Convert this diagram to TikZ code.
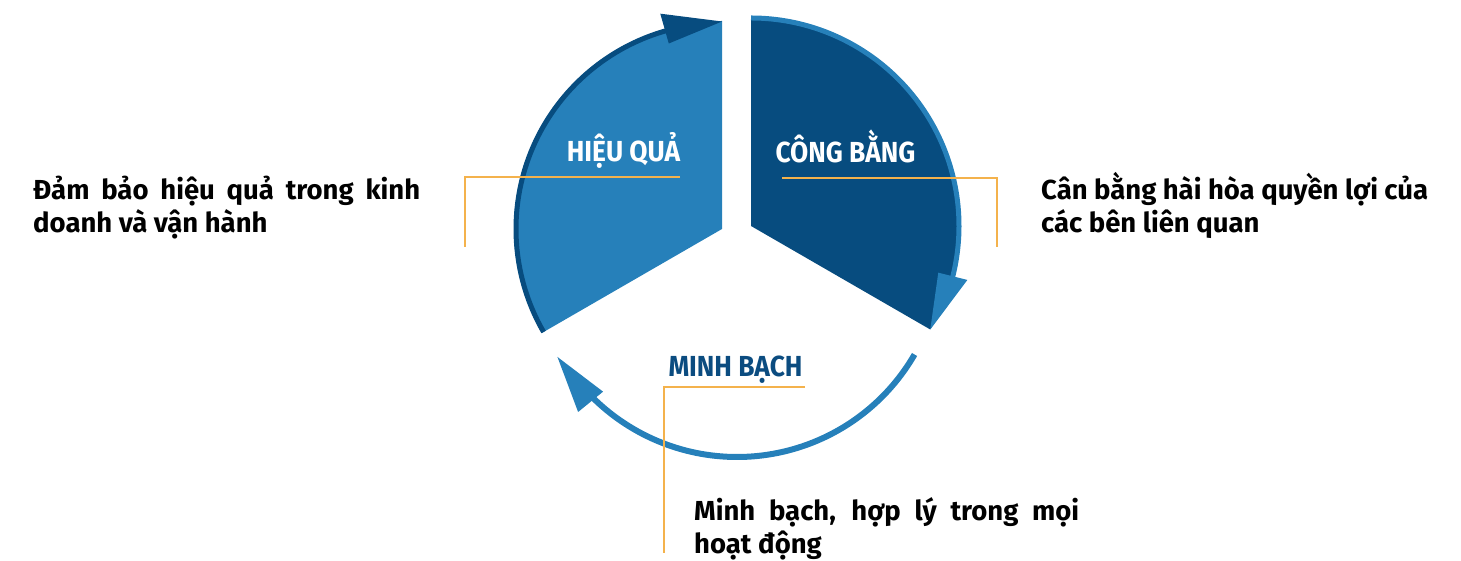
\documentclass[tikz,border=0pt]{standalone}
\usepackage{fontspec}
\setmainfont{Fira Sans}
\newfontfamily\headfont{Fira Sans}[FakeStretch=0.91]
\usetikzlibrary{calc}

\definecolor{lightblue}{HTML}{2680BA}
\definecolor{darkblue}{HTML}{074C7F}
\definecolor{leader}{HTML}{F4B24C}
\definecolor{headblue}{HTML}{0B4C80}

% two-line paragraph: first line set to a given width, second line natural
\newcommand\paratwo[3]{\vtop{\baselineskip=33pt\lineskiplimit=-100pt
  \hbox to #1{#2}\hbox{#3}}}

\tikzset{
  headtext/.style={font=\headfont\bfseries\fontsize{29}{29}\selectfont, inner sep=0pt, anchor=base},
  bodytext/.style={font=\bfseries\fontsize{27.5}{33}\selectfont, inner sep=0pt, anchor=base west, text=black},
  leaderline/.style={draw=leader, line width=1.5pt},
}

\begin{document}
\begin{tikzpicture}[x=1pt,y=1pt]
\useasboundingbox (0,0) rectangle (1461,561);

% sector centres
\coordinate (L) at (722,332);
\coordinate (R) at (751,335);
\coordinate (B) at (737,309);

% left sector: light fill, dark rim ending in an arrow head at the top
\fill[lightblue] (L) -- ($(L)+(90:208)$) arc[start angle=90, end angle=210, radius=208] -- cycle;
\draw[darkblue, line width=5pt] ($(L)+(210:206)$) arc[start angle=210, end angle=104, radius=206];
\fill[darkblue] ($(L)+(90:207.5)$) -- ($(L)+(106:193)$) -- ($(L)+(106:224)$) -- cycle;

% right sector: dark fill, light rim ending in an arrow head at the bottom
\fill[darkblue] (R) -- ($(R)+(90:207)$) arc[start angle=90, end angle=-30, radius=207] -- cycle;
\draw[lightblue, line width=5pt] ($(R)+(90:208)$) arc[start angle=90, end angle=-16, radius=208];
\fill[lightblue] ($(R)+(-30:207)$) -- ($(R)+(-14:193)$) -- ($(R)+(-14:223)$) -- cycle;

% bottom arc with arrow head on the left
\draw[lightblue, line width=6pt] ($(B)+(-30:205)$) arc[start angle=-30, end angle=-136, radius=205];
\fill[lightblue] ($(B)+(210.3:208)$) -- ($(B)+(226.2:193.5)$) -- ($(B)+(225.2:225.5)$) -- cycle;

% leader lines
\coordinate (l1) at (680,384);
\coordinate (l2) at (465,384);
\coordinate (l3) at (465,314);
\draw[leaderline] (l1) -- (l2) -- (l3);
\coordinate (r1) at (782,383);
\coordinate (r2) at (997,383);
\coordinate (r3) at (997,314);
\draw[leaderline] (r1) -- (r2) -- (r3);
\coordinate (b1) at (805,174);
\coordinate (b2) at (664,174);
\coordinate (b3) at (664,8);
\draw[leaderline] (b1) -- (b2) -- (b3);

% headings
\node[headtext, text=white] (hq) at (623.5,399) {HIỆU QUẢ};
\node[headtext, text=white] (cb) at (845.5,398) {CÔNG BẰNG};
\node[headtext, text=headblue] (mb) at (735.5,184) {MINH BẠCH};

% descriptions
\node[bodytext] (dl) at (33,361) {\paratwo{387pt}{Đảm bảo hiệu quả trong kinh}{doanh và vận hành}};
\node[bodytext] (dr) at (1041,361) {\paratwo{387pt}{Cân bằng hài hòa quyền lợi của}{các bên liên quan}};
\node[bodytext] (db) at (694,40) {\paratwo{385pt}{Minh bạch, hợp lý trong mọi}{hoạt động}};
\end{tikzpicture}
\end{document}
